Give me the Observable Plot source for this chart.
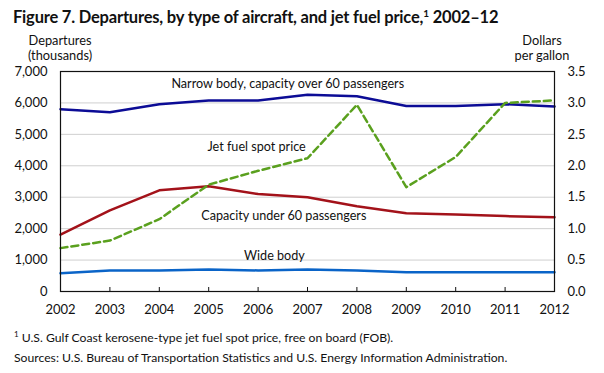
<!DOCTYPE html>
<html>
<head>
<meta charset="utf-8">
<script src="https://cdn.jsdelivr.net/npm/d3@7"></script>
<script src="https://cdn.jsdelivr.net/npm/@observablehq/plot@0.6"></script>
<style>
  body { margin: 0; background: #fff; font-family: Lato, sans-serif; color: #111; }
  #wrap { position: relative; width: 604px; height: 373px; overflow: hidden; }
  .abs { position: absolute; white-space: nowrap; }
  #title { left: 13px; top: 7px; font-size: 16.5px; font-weight: bold; letter-spacing: -0.2px; line-height: 20px; }
  #title sup { font-size: 10px; line-height: 0; }
  .ytitle { font-size: 12.8px; line-height: 14px; height: 14px; text-align: center; width: 100px; }
  #ylt1 { left: 10px; top: 33px; }
  #ylt2 { left: 10px; top: 48px; }
  #yrt1 { left: 492px; top: 33px; }
  #yrt2 { left: 492px; top: 48px; }
  #chart { left: 0; top: 30px; }
  .note { font-size: 12.2px; left: 14px; line-height: 16px; }
  #fn { top: 330px; }
  #src { top: 350px; }
  #fn sup { font-size: 8px; line-height: 0; }
</style>
</head>
<body>
<div id="wrap">
  <div class="abs" id="title">Figure 7. Departures, by type of aircraft, and jet fuel price,<sup>1</sup> 2002–12</div>
  <div class="abs ytitle" id="ylt1">Departures</div>
  <div class="abs ytitle" id="ylt2">(thousands)</div>
  <div class="abs ytitle" id="yrt1">Dollars</div>
  <div class="abs ytitle" id="yrt2">per gallon</div>
  <div class="abs" id="chart"></div>
  <div class="abs note" id="fn"><sup>1</sup> U.S. Gulf Coast kerosene-type jet fuel spot price, free on board (FOB).</div>
  <div class="abs note" id="src">Sources: U.S. Bureau of Transportation Statistics and U.S. Energy Information Administration.</div>
</div>
<script>
const years = [2002, 2003, 2004, 2005, 2006, 2007, 2008, 2009, 2010, 2011, 2012];
// Departures (thousands)
const narrowBody = [5800, 5700, 5960, 6080, 6080, 6260, 6210, 5900, 5900, 5960, 5890];
const under60 = [1810, 2580, 3220, 3350, 3100, 3000, 2710, 2490, 2450, 2400, 2360];
const wideBody = [580, 670, 670, 700, 670, 700, 670, 610, 610, 610, 610];
// Jet fuel spot price (dollars per gallon)
const jetFuel = [0.69, 0.81, 1.15, 1.70, 1.92, 2.12, 2.97, 1.66, 2.14, 3.00, 3.04];

const leftTicks = [0, 1000, 2000, 3000, 4000, 5000, 6000, 7000];
const rightTicks = [0.0, 0.5, 1.0, 1.5, 2.0, 2.5, 3.0, 3.5];

// Series labels, anchored in data coordinates
const labelText = ["Narrow body, capacity over 60 passengers", "Jet fuel spot price", "Capacity under 60 passengers", "Wide body"];
const labelYear = [2006.6, 2005.97, 2006.52, 2006.33];
const labelValue = [6590, 4610, 2400, 1145];

const ratio = 7000 / 3.5; // right axis -> left axis units

const deps = [];
years.forEach((yr, i) => {
  deps.push({year: yr, value: narrowBody[i], series: "narrow"});
  deps.push({year: yr, value: under60[i], series: "under60"});
  deps.push({year: yr, value: wideBody[i], series: "wide"});
});
const fuel = years.map((yr, i) => ({year: yr, price: jetFuel[i]}));
const labels = labelText.map((t, i) => ({text: t, year: labelYear[i], value: labelValue[i]}));

const colors = {narrow: "#0c0c96", under60: "#a3121a", wide: "#0a64c8"};

const chart = Plot.plot({
  width: 604,
  height: 292,
  marginLeft: 60,
  marginRight: 50,
  marginTop: 41,
  marginBottom: 31,
  style: {fontFamily: "Lato, sans-serif", fontSize: "13px", color: "#111", background: "transparent"},
  x: {domain: [2002, 2012]},
  y: {domain: [0, 7000]},
  marks: [
    Plot.gridY(leftTicks.slice(1, -1), {stroke: "#cfcfcf", strokeOpacity: 1, strokeWidth: 1}),
    Plot.axisY({ticks: leftTicks, tickSize: 0, tickPadding: 13, tickFormat: d3.format(","), label: null}),
    Plot.axisY({anchor: "right", ticks: rightTicks.map(d => d * ratio), tickSize: 0, tickPadding: 13, tickFormat: d => (d / ratio).toFixed(1), label: null}),
    Plot.axisX({ticks: years, tickSize: 4, dy: -4, tickPadding: 13, tickFormat: d => String(d), label: null, stroke: "#111"}),
    Plot.line(deps, {x: "year", y: "value", z: "series", stroke: d => colors[d.series], strokeWidth: 2.5}),
    Plot.line(fuel, {x: "year", y: d => d.price * ratio, stroke: "#5aa01e", strokeWidth: 2.5, strokeDasharray: "7,4"}),
    Plot.frame({stroke: "#111", strokeWidth: 1.2}),
    Plot.text(labels, {x: "year", y: "value", text: "text", fontSize: 12.6, fill: "#111"})
  ]
});
document.getElementById("chart").appendChild(chart);
</script>
</body>
</html>
